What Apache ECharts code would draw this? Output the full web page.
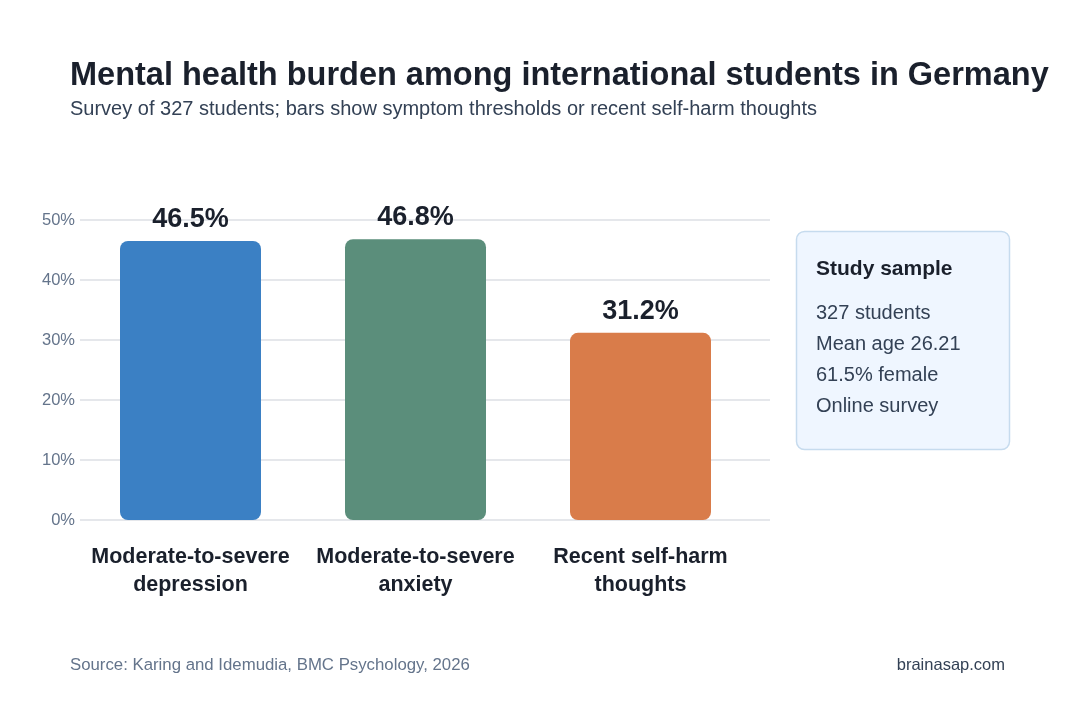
<!DOCTYPE html>
<html><head><meta charset="utf-8">
<script src="https://cdn.jsdelivr.net/npm/echarts@6/dist/echarts.min.js"></script>
<style>html,body{margin:0;padding:0;background:#fff}#c{width:1080px;height:720px}</style>
</head><body><div id="c"></div>
<script>
const categories = ['Moderate-to-severe\ndepression', 'Moderate-to-severe\nanxiety', 'Recent self-harm\nthoughts'];
const values = [46.5, 46.8, 31.2];
const barColors = ['#3B80C4', '#5B8E7B', '#D97C4A'];
const yTicks = [0, 10, 20, 30, 40, 50];
const sampleTitle = 'Study sample';
const sampleLines = ['327 students', 'Mean age 26.21', '61.5% female', 'Online survey'];
const titleText = 'Mental health burden among international students in Germany';
const subtitleText = 'Survey of 327 students; bars show symptom thresholds or recent self-harm thoughts';
const sourceText = 'Source: Karing and Idemudia, BMC Psychology, 2026';
const brandText = 'brainasap.com';

const FONT = '"Liberation Sans", Arial, Helvetica, sans-serif';
const chart = echarts.init(document.getElementById('c'), null, {renderer: 'canvas'});

function txt(x, y, text, font, fill, align) {
  return {type: 'text', x: x, y: y,
          style: {text: text, font: font, fill: fill, align: align || 'left', verticalAlign: 'middle'}};
}

const graphics = [
  txt(70, 76, titleText, 'bold 32.5px ' + FONT, '#1a202c'),
  txt(70, 109, subtitleText, '20px ' + FONT, '#334155'),
  {type: 'rect', shape: {x: 796.5, y: 231.5, width: 213, height: 218, r: 8},
   style: {fill: '#eff6ff', stroke: '#c6dbee', lineWidth: 1.5}},
  txt(816, 269, sampleTitle, 'bold 21px ' + FONT, '#1a202c'),
  txt(70, 665, sourceText, '16.8px ' + FONT, '#64748b'),
  txt(1005, 665, brandText, '16.5px ' + FONT, '#334155', 'right')
];
sampleLines.forEach((t, i) => {
  graphics.push(txt(816, 313 + i * 31, t, '20px ' + FONT, '#334155'));
});

chart.setOption({
  animation: false,
  backgroundColor: '#ffffff',
  textStyle: {fontFamily: FONT},
  grid: [
    {left: 80, right: 310, top: 220, bottom: 200},
    {left: 78, right: 327, top: 220, bottom: 200}
  ],
  xAxis: [
    {type: 'category', gridIndex: 0, data: [''], show: false},
    {type: 'category', gridIndex: 1, data: categories,
     axisLine: {show: false}, axisTick: {show: false},
     axisLabel: {interval: 0, margin: 23, color: '#1a202c', fontSize: 21.5, fontWeight: 'bold', lineHeight: 28, fontFamily: FONT}}
  ],
  yAxis: [
    {type: 'value', gridIndex: 0, min: yTicks[0], max: yTicks[yTicks.length - 1], interval: 10,
     axisLine: {show: false}, axisTick: {show: false},
     axisLabel: {formatter: '{value}%', color: '#64748b', fontSize: 16.5, margin: 5, fontFamily: FONT},
     splitLine: {lineStyle: {color: '#e5e7eb', width: 2}}},
    {type: 'value', gridIndex: 1, min: yTicks[0], max: yTicks[yTicks.length - 1], show: false, splitLine: {show: false}}
  ],
  series: [{
    type: 'bar', xAxisIndex: 1, yAxisIndex: 1,
    data: values.map((v, i) => ({value: v, itemStyle: {color: barColors[i]}})),
    barWidth: 141,
    itemStyle: {borderRadius: 8},
    label: {show: true, position: 'top', distance: 8, formatter: p => p.value.toFixed(1) + '%',
            color: '#1a202c', fontSize: 27, fontWeight: 'bold', fontFamily: FONT}
  }],
  graphic: graphics
});
</script></body></html>
